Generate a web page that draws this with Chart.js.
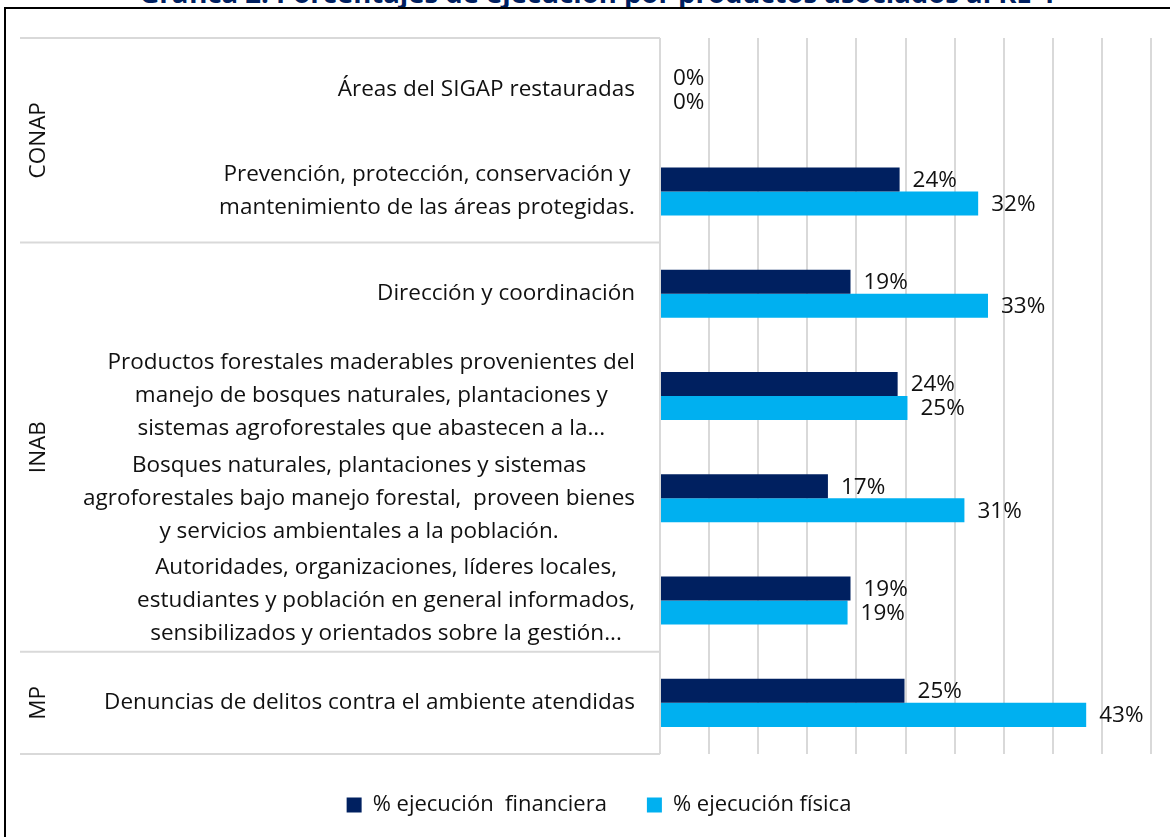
<!DOCTYPE html>
<html>
<head>
<meta charset="utf-8">
<script src="https://cdn.jsdelivr.net/npm/chart.js@4.4.0/dist/chart.umd.min.js"></script>
<style>
  html, body { margin: 0; padding: 0; background: #fff; overflow: hidden; }
  #wrap { position: relative; width: 1170px; height: 837px; }
  #titulo { position: absolute; left: 0; width: 1194px; top: -21px; text-align: center;
    font: bold 27.5px "Open Sans", sans-serif; color: #002060; line-height: 28px; white-space: nowrap; }
  #marco { position: absolute; left: 4px; top: 7px; width: 1200px; height: 900px;
    border-left: 2px solid #000; border-top: 2px solid #000; }
  canvas { position: absolute; left: 0; top: 0; }
</style>
</head>
<body>
<div id="wrap">
  <div id="titulo">Gráfica 2: Porcentajes de ejecución por productos asociados al RE 4</div>
  <div id="marco"></div>
  <canvas id="graph_area" width="1170" height="837"></canvas>
</div>
<script>
// datos
const categorias = [
  ['Áreas del SIGAP restauradas'],
  ['Prevención, protección, conservación y', 'mantenimiento de las áreas protegidas.'],
  ['Dirección y coordinación'],
  ['Productos forestales maderables provenientes del', 'manejo de bosques naturales, plantaciones y', 'sistemas agroforestales que abastecen a la...'],
  ['Bosques naturales, plantaciones y sistemas', 'agroforestales bajo manejo forestal,  proveen bienes', 'y servicios ambientales a la población.'],
  ['Autoridades, organizaciones, líderes locales,', 'estudiantes y población en general informados,', 'sensibilizados y orientados sobre la gestión...'],
  ['Denuncias de delitos contra el ambiente atendidas']
];
const grupos = ['CONAP', 'INAB', 'MP'];
const grupoDeCategoria = [0, 0, 1, 1, 1, 1, 2];
const ejecFinanciera = [0, 24.4, 19.4, 24.2, 17.1, 19.4, 24.9];
const ejecFisica = [0, 32.4, 33.4, 25.2, 31.0, 19.1, 43.4];
const nombresSeries = ['% ejecución  financiera', '% ejecución física'];

const FONT = '"Open Sans", sans-serif';
const TAM = 22.5;

// etiquetas de categoria y de grupo a la izquierda
var etiquetasPlugin = {
  id: 'etiquetas',
  afterDraw: function (chart) {
    var ctx = chart.ctx;
    var y = chart.scales.y;
    var area = chart.chartArea;
    ctx.save();
    ctx.font = TAM + 'px ' + FONT;
    ctx.fillStyle = '#111';
    ctx.textBaseline = 'middle';
    ctx.textAlign = 'center';
    var lh = 33;
    categorias.forEach(function (lineas, i) {
      var cy = y.getPixelForValue(i);
      var w = 0;
      lineas.forEach(function (l) { w = Math.max(w, ctx.measureText(l).width); });
      var cx = area.left - 25 - w / 2;
      var y0 = cy - (lineas.length - 1) * lh / 2;
      lineas.forEach(function (l, k) {
        ctx.fillText(l, cx, y0 + k * lh);
      });
    });

    // separadores de grupo
    var bordes = [area.top];
    for (var i = 1; i < categorias.length; i++) {
      if (grupoDeCategoria[i] !== grupoDeCategoria[i - 1]) {
        bordes.push((y.getPixelForValue(i - 1) + y.getPixelForValue(i)) / 2);
      }
    }
    bordes.push(area.bottom);
    ctx.strokeStyle = '#d9d9d9';
    ctx.lineWidth = 2;
    bordes.forEach(function (b) {
      ctx.beginPath();
      ctx.moveTo(20, b);
      ctx.lineTo(area.left, b);
      ctx.stroke();
    });
    grupos.forEach(function (g, k) {
      var cy = (bordes[k] + bordes[k + 1]) / 2;
      ctx.save();
      ctx.translate(39, cy);
      ctx.rotate(-Math.PI / 2);
      ctx.fillText(g, 0, 0);
      ctx.restore();
    });
    ctx.restore();
  }
};

// valores al final de cada barra
var valoresPlugin = {
  id: 'valores',
  afterDatasetsDraw: function (chart) {
    var ctx = chart.ctx;
    ctx.save();
    ctx.font = TAM + 'px ' + FONT;
    ctx.fillStyle = '#111';
    ctx.textAlign = 'left';
    ctx.textBaseline = 'middle';
    chart.data.datasets.forEach(function (dataset, i) {
      var meta = chart.getDatasetMeta(i);
      meta.data.forEach(function (bar, index) {
        var txt = Math.round(dataset.data[index]) + '%';
        ctx.fillText(txt, bar.x + 13, bar.y + 1);
      });
    });
    ctx.restore();
  }
};

const ctx = document.getElementById('graph_area').getContext('2d');
new Chart(ctx, {
  type: 'bar',
  data: {
    labels: categorias,
    datasets: [
      { label: nombresSeries[0], data: ejecFinanciera, backgroundColor: '#002060' },
      { label: nombresSeries[1], data: ejecFisica, backgroundColor: '#00B0F0' }
    ]
  },
  options: {
    indexAxis: 'y',
    responsive: false,
    animation: false,
    layout: { padding: { left: 47, right: 19, top: 38, bottom: 11 } },
    datasets: { bar: { barPercentage: 1, categoryPercentage: 0.47 } },
    scales: {
      x: {
        min: 0, max: 50,
        ticks: { display: false, stepSize: 5 },
        grid: { color: '#d9d9d9', lineWidth: 2, drawTicks: false },
        border: { display: false }
      },
      y: {
        ticks: { display: false },
        grid: { display: false },
        border: { display: false },
        afterFit: function (scale) { scale.width = 613; }
      }
    },
    plugins: {
      legend: {
        position: 'bottom',
        labels: { font: { size: 22, family: FONT }, color: '#111', boxWidth: 15, boxHeight: 15, padding: 40 }
      },
      tooltip: { enabled: false }
    }
  },
  plugins: [etiquetasPlugin, valoresPlugin]
});
</script>
</body>
</html>
